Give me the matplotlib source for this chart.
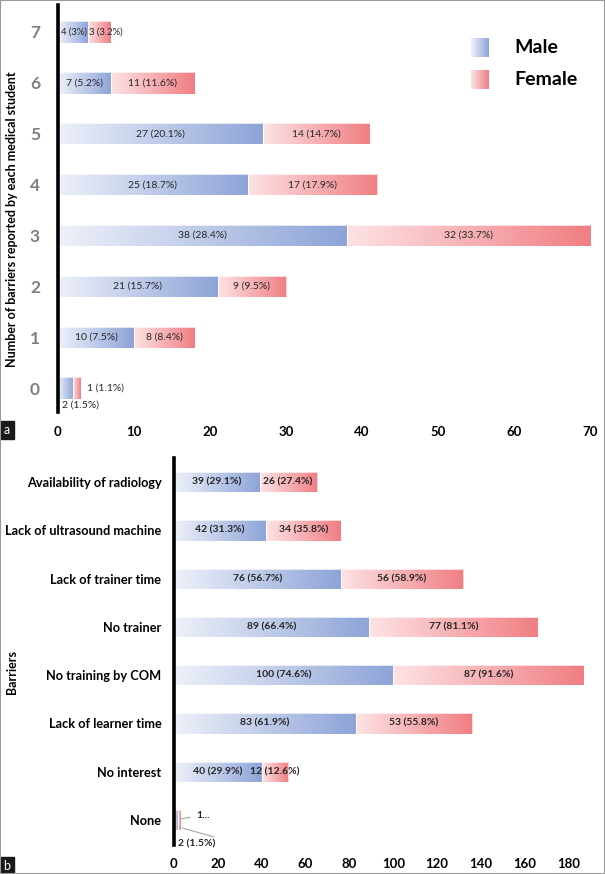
import numpy as np
import matplotlib
matplotlib.use("Agg")
import matplotlib.pyplot as plt
from matplotlib.colors import LinearSegmentedColormap
from matplotlib.patches import Rectangle

plt.rcParams["font.family"] = ["Lato", "DejaVu Sans"]

# panel a: number of barriers reported per student
n_barriers = [0, 1, 2, 3, 4, 5, 6, 7]
male_a = [2, 10, 21, 38, 25, 27, 7, 4]
male_a_pct = [1.5, 7.5, 15.7, 28.4, 18.7, 20.1, 5.2, 3]
female_a = [1, 8, 9, 32, 17, 14, 11, 3]
female_a_pct = [1.1, 8.4, 9.5, 33.7, 17.9, 14.7, 11.6, 3.2]

# panel b: barriers (bottom to top)
barriers = ["None", "No interest", "Lack of learner time", "No training by COM",
            "No trainer", "Lack of trainer time", "Lack of ultrasound machine",
            "Availability of radiology"]
male_b = [2, 40, 83, 100, 89, 76, 42, 39]
male_b_pct = [1.5, 29.9, 61.9, 74.6, 66.4, 56.7, 31.3, 29.1]
female_b = [1, 12, 53, 87, 77, 56, 34, 26]
female_b_pct = [1.1, 12.6, 55.8, 91.6, 81.1, 58.9, 35.8, 27.4]

MALE = ("#eef1f9", "#8ea4d8")
FEMALE = ("#fde3e5", "#f07e83")
TXT = "#262626"

W, H = 605, 874
fig = plt.figure(figsize=(W / 100, H / 100), dpi=100)


def px(l, t, r, b):
    # pixel box -> figure fraction rect
    return [l / W, 1 - b / H, (r - l) / W, (b - t) / H]


def grad_bars(ax, bars, cols):
    cmap = LinearSegmentedColormap.from_list("g", cols)
    g = np.linspace(0, 1, 256).reshape(1, -1)
    for r in bars:
        x, y, w, h = r.get_x(), r.get_y(), r.get_width(), r.get_height()
        im = ax.imshow(g, cmap=cmap, extent=[x, x + w, y, y + h], aspect="auto",
                       interpolation="bilinear", zorder=2)
        im.set_clip_path(r)
        r.set_facecolor("none")
        r.set_edgecolor("white")
        r.set_linewidth(0.5)
        r.set_zorder(3)


def style(ax):
    for s in ["top", "right", "bottom"]:
        ax.spines[s].set_visible(False)
    ax.spines["left"].set_linewidth(2.6)
    ax.spines["left"].set_color("black")
    ax.spines["left"].set_zorder(4)
    ax.tick_params(length=0)


# ---------- panel a ----------
ax1 = fig.add_axes(px(58, 5, 590, 412))
b1 = ax1.barh(n_barriers, male_a, height=0.42)
b2 = ax1.barh(n_barriers, female_a, left=male_a, height=0.42)
grad_bars(ax1, b1, MALE)
grad_bars(ax1, b2, FEMALE)
ax1.set_xlim(0, 70)
ax1.set_ylim(-0.47, 7.53)
style(ax1)
ax1.set_xticks(range(0, 71, 10))
ax1.set_yticks(n_barriers)
ax1.tick_params(axis="x", pad=10, labelsize=9.5)
ax1.tick_params(axis="y", pad=13, labelsize=12.5, labelcolor="#7f7f7f")
for lab in ax1.get_xticklabels() + ax1.get_yticklabels():
    lab.set_fontweight("bold")

for i, k in enumerate(n_barriers):
    m, f = male_a[i], female_a[i]
    ml = f"{m} ({male_a_pct[i]:g}%)"
    fl = f"{f} ({female_a_pct[i]:g}%)"
    if k == 0:
        ax1.text(m + f + 0.8, k, fl, fontsize=7.5, color=TXT, va="center",
                 ha="left", zorder=5)
        ax1.text(0.5, k - 0.33, ml, fontsize=7.5, color=TXT, va="center",
                 ha="left", zorder=5)
    elif k == 7:
        # short bars: labels crowd each other
        ax1.text(m - 0.2, k, ml, fontsize=6.8, color=TXT, va="center",
                 ha="right", zorder=5)
        ax1.text(m + 0.1, k, fl, fontsize=6.8, color=TXT, va="center",
                 ha="left", zorder=5)
    else:
        ax1.text(m / 2, k, ml, fontsize=7.5, color=TXT, va="center",
                 ha="center", zorder=5)
        ax1.text(m + f / 2, k, fl, fontsize=7.5, color=TXT, va="center",
                 ha="center", zorder=5)

fig.text(12 / W, 1 - 219 / H, "Number of barriers reported by each medical student",
         rotation=90, ha="center", va="center", fontsize=9, fontweight="bold")

# legend
cm_m = LinearSegmentedColormap.from_list("m", MALE)
cm_f = LinearSegmentedColormap.from_list("f", FEMALE)
grad = np.linspace(0, 1, 64).reshape(1, -1)
for (top, bot), cm, name in [((38, 57), cm_m, "Male"), ((70, 89), cm_f, "Female")]:
    lax = fig.add_axes(px(471, top, 489, bot))
    lax.imshow(grad, cmap=cm, aspect="auto")
    lax.axis("off")
    fig.text(514 / W, 1 - (top + bot) / 2 / H, name, fontsize=14,
             fontweight="bold", va="center", ha="left")

# ---------- panel b ----------
ax2 = fig.add_axes(px(174, 458, 595, 845))
yb = np.arange(len(barriers))
c1 = ax2.barh(yb, male_b, height=0.42)
c2 = ax2.barh(yb, female_b, left=male_b, height=0.42)
grad_bars(ax2, c1, MALE)
grad_bars(ax2, c2, FEMALE)
ax2.set_xlim(0, 192)
ax2.set_ylim(-0.52, 7.5)
style(ax2)
ax2.set_xticks(range(0, 181, 20))
ax2.set_yticks(yb)
ax2.set_yticklabels(barriers)
ax2.tick_params(axis="x", pad=9, labelsize=9.5)
ax2.tick_params(axis="y", pad=9, labelsize=9.2)
for lab in ax2.get_xticklabels() + ax2.get_yticklabels():
    lab.set_fontweight("bold")

for i in yb:
    m, f = male_b[i], female_b[i]
    if barriers[i] == "None":
        ax2.annotate("1...", xy=(m + f, 0.02), xytext=(10, 0.1), fontsize=7.5,
                     fontweight="bold", color=TXT, va="center", ha="left",
                     arrowprops=dict(arrowstyle="-", color="#a6a6a6", lw=0.8,
                                     shrinkA=2, shrinkB=0))
        ax2.annotate(f"{m} ({male_b_pct[i]:g}%)", xy=(1.5, -0.15), xytext=(1.8, -0.5),
                     fontsize=7.5, fontweight="bold", color=TXT, va="center",
                     ha="left", annotation_clip=False)
        ax2.plot([1.5, 18], [-0.14, -0.35], color="#a6a6a6", lw=0.8, clip_on=False)
        continue
    ax2.text(m / 2, i, f"{m} ({male_b_pct[i]:g}%)", fontsize=7.5, fontweight="bold",
             color=TXT, va="center", ha="center", zorder=5)
    ax2.text(m + f / 2, i, f"{f} ({female_b_pct[i]:g}%)", fontsize=7.5,
             fontweight="bold", color=TXT, va="center", ha="center", zorder=5)

fig.text(12 / W, 1 - 672 / H, "Barriers", rotation=90, ha="center", va="center",
         fontsize=9, fontweight="bold")

# panel tags and outer frame
for tag, top, bot in [("a", 421, 439), ("b", 857, 874)]:
    fig.patches.append(Rectangle((0, 1 - bot / H), 14 / W, (bot - top) / H,
                                 transform=fig.transFigure, color="#1a1a1a"))
    fig.text(7 / W, 1 - (top + bot) / 2 / H, tag, color="white", fontsize=9,
             ha="center", va="center")
fig.patches.append(Rectangle((0, 0), 1, 1, transform=fig.transFigure, fill=False,
                             edgecolor="#999999", lw=1.5))

fig.savefig("out.png", dpi=100)
